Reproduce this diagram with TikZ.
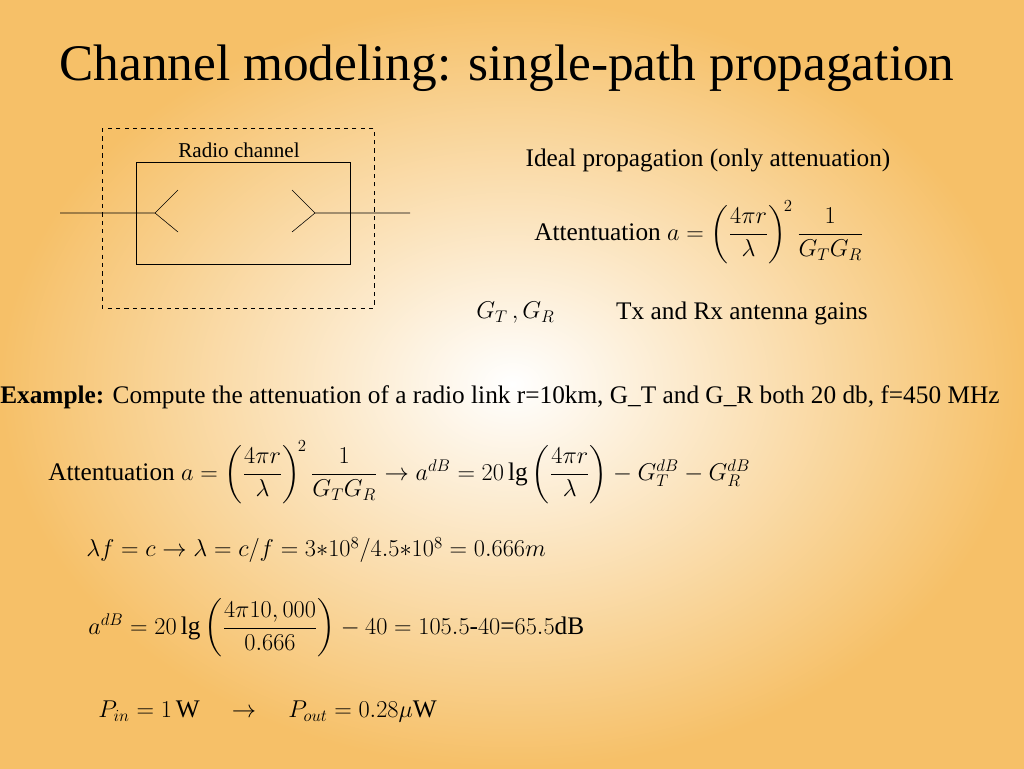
\documentclass[tikz,border=0pt]{standalone}
\usepackage{fontspec}
\setmainfont{Liberation Serif}
\usepackage{amsmath}
\definecolor{slideedge}{RGB}{246,192,104}
\tikzset{
    body/.style={font=\fontsize{18}{21}\selectfont, inner sep=0pt},
    eq/.style={font=\fontsize{18}{21}\selectfont, inner sep=0pt, anchor=west},
}
\begin{document}
\begin{tikzpicture}[x=0.25mm, y=-0.25mm]
    \useasboundingbox (0, 0) rectangle (1024, 768);
    \shade[inner color=white, outer color=slideedge] (0, 0) rectangle (1024, 768);
    \node (title) at (507, 68) {\fontsize{36.5}{42}\selectfont Channel modeling: single-path propagation};
    % radio channel box
    \draw[dashed] (102, 128) rectangle (374, 308);
    \draw (136, 162) rectangle (350, 264);
    \node[body, font=\fontsize{15}{17}\selectfont] (chan) at (239, 150) {Radio channel};
    \coordinate (txin) at (60, 213);
    \coordinate (tx) at (155, 213);
    \coordinate (rx) at (315, 213);
    \coordinate (rxout) at (410, 213);
    \draw (txin) -- (tx) -- ++(23, -23);
    \draw (tx) -- ++(23, 19);
    \draw (rxout) -- (rx) -- ++(-23, -23);
    \draw (rx) -- ++(-23, 19);
    % ideal propagation
    \node[body] (ideal) at (708, 160) {Ideal propagation (only attenuation)};
    \node[eq] (att1) at (534, 232) {Attentuation $a=\left(\dfrac{4\pi r}{\lambda}\right)^{\!2}\dfrac{1}{G_TG_R}$};
    \node[eq] (gains) at (476, 313) {$G_T\,,G_R$};
    \node[body] (gaintxt) at (742, 313) {Tx and Rx antenna gains};
    % example
    \node[body, anchor=west] (example) at (0, 397) {\textbf{Example:} Compute the attenuation of a radio link r=10km, G\_T and G\_R both 20 db, f=450 MHz};
    \node[eq] (att2) at (48, 472) {Attentuation $a=\left(\dfrac{4\pi r}{\lambda}\right)^{\!2}\dfrac{1}{G_TG_R}\rightarrow a^{dB}=20\lg\left(\dfrac{4\pi r}{\lambda}\right)-G_T^{dB}-G_R^{dB}$};
    \node[eq] (lambda) at (86, 550) {$\lambda f=c\rightarrow\lambda=c/f=3{*}10^{8}/4.5{*}10^{8}=0.666m$};
    \node[eq] (adb) at (88, 628) {$a^{dB}=20\lg\left(\dfrac{4\pi10,000}{0.666}\right)-40=105.5\text{-}40\text{=}65.5\text{dB}$};
    \node[eq] (power) at (98, 712) {$P_{in}=1\,\text{W}\quad\rightarrow\quad P_{out}=0.28\mu\text{W}$};
\end{tikzpicture}
\end{document}
